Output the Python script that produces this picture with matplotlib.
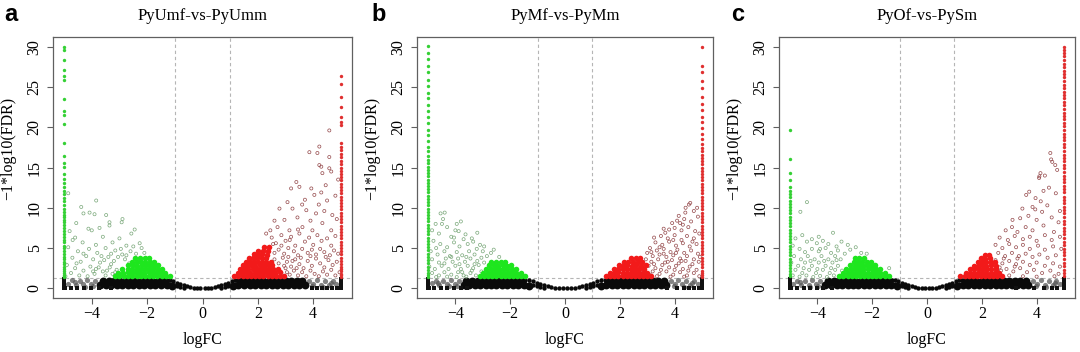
import numpy as np
import matplotlib
matplotlib.use("Agg")
import matplotlib.pyplot as plt

plt.rcParams['font.family'] = ['Liberation Serif', 'DejaVu Serif']
plt.rcParams['axes.unicode_minus'] = True

# ---------------- shared settings ----------------
titles = ["PyUmf-vs-PyUmm", "PyMf-vs-PyMm", "PyOf-vs-PySm"]
panel_letters = ["a", "b", "c"]
x_ticks = [-4, -2, 0, 2, 4]
y_ticks = [0, 5, 10, 15, 20, 25, 30]
fc_cut = 1.0          # |logFC| threshold
fdr_line = 1.3        # -log10(0.05)
fc_clip = 5.0         # logFC values clipped at +/-5

# ---------------- panel a ----------------
a_black_core = [
    (-3.58,0.95),(-3.39,0.92),(-3.2,0.96),(-3.01,0.93),(-2.8,0.95),(-2.61,0.92),(-2.4,0.96),(-2.19,0.94),(-2.0,0.92),(-1.81,0.95),(-1.6,0.93),(-1.41,0.92),
    (1.41,0.92),(1.6,0.94),(1.79,0.92),(2.0,0.95),(2.2,0.93),(2.41,0.96),(2.6,0.92),(2.8,0.95),(3.0,0.93),(3.21,0.96),(3.4,0.92),(3.6,0.94),
    (-3.7,0.4),(-3.5,0.37),(-3.3,0.41),(-3.1,0.38),(-2.9,0.4),(-2.7,0.36),(-2.5,0.39),(-2.3,0.41),(-2.1,0.37),(-1.9,0.4),(-1.7,0.38),(-1.5,0.41),(-1.3,0.37),(-1.1,0.32),
    (1.1,0.32),(1.3,0.38),(1.5,0.4),(1.7,0.37),(1.9,0.41),(2.1,0.38),(2.3,0.4),(2.5,0.37),(2.7,0.41),(2.9,0.39),(3.1,0.38),(3.3,0.4),(3.5,0.37),(3.7,0.39)]
a_black_mid = [
    (-1.3,1.0),(-1.3,0.6),(-1.18,1.0),(-1.18,0.55),(-1.05,0.9),(-1.05,0.4),(-0.92,0.72),(-0.92,0.3),(-0.8,0.55),(-0.8,0.15),(-0.68,0.4),(-0.68,0.1),
    (-0.56,0.26),(-0.44,0.16),(-0.32,0.08),(-0.2,0.04),(-0.08,0.02),(0.08,0.02),(0.2,0.04),(0.32,0.08),(0.44,0.16),(0.56,0.26),
    (0.68,0.1),(0.68,0.4),(0.8,0.15),(0.8,0.55),(0.92,0.3),(0.92,0.72),(1.05,0.4),(1.05,0.9),(1.18,0.55),(1.18,1.0),(1.3,0.6),(1.3,1.0)]
a_black_outer = [
    (-3.88,0.95),(-4.02,0.6),(-4.16,1.02),(-4.3,0.5),(-4.44,0.88),(-4.58,0.42),(-4.72,0.98),(-4.86,0.6),(-3.95,0.3),(-4.25,0.22),(-4.62,0.75),
    (3.86,0.92),(4.0,0.55),(4.14,1.0),(4.28,0.45),(4.42,0.85),(4.56,0.4),(4.7,0.95),(4.84,0.6),(3.96,0.28),(4.35,0.2),(4.65,0.7)]
a_black_row_x = [-4.98,-4.75,-4.52,-4.27,-4.02,-3.74,-3.3, 3.97,4.15,4.33,4.5,4.68,4.85]
a_black_col_y = [0.02,0.2,0.4,0.6,0.8,1.0,1.2]
a_green_core = [
    (-1.18,1.52),(-1.33,1.49),(-1.48,1.53),(-1.63,1.5),(-1.78,1.54),(-1.93,1.48),(-2.08,1.52),(-2.23,1.5),(-2.38,1.54),(-2.53,1.49),(-2.68,1.52),(-2.84,1.5),(-3.0,1.53),(-3.16,1.49),
    (-1.35,1.96),(-1.5,1.93),(-1.65,1.98),(-1.8,1.94),(-1.95,1.97),(-2.1,1.92),(-2.25,1.96),(-2.4,1.99),(-2.55,1.93),(-2.7,1.97),(-2.88,1.94),(-3.06,1.96),
    (-1.47,2.41),(-1.62,2.38),(-1.77,2.43),(-1.92,2.39),(-2.07,2.42),(-2.22,2.37),(-2.37,2.41),(-2.53,2.44),(-2.7,2.38),(-2.9,2.42),
    (-1.6,2.86),(-1.75,2.83),(-1.9,2.88),(-2.05,2.84),(-2.2,2.87),(-2.35,2.82),(-2.51,2.86),(-2.68,2.84),
    (-1.76,3.3),(-1.91,3.27),(-2.06,3.32),(-2.21,3.28),(-2.38,3.31),(-2.56,3.27),
    (-1.93,3.74),(-2.09,3.71),(-2.26,3.76),(-2.45,3.72)]
a_green_sparse = [
    (-4.85,11.8),(-4.38,10.1),(-4.3,9.3),(-4.08,9.4),(-3.84,10.9),(-3.9,9.2),(-3.48,9.1),(-3.36,8.2),(-2.92,8.2),(-2.89,8.6),(-4.56,8.1),(-4.0,7.2),
    (-4.12,7.4),(-3.72,7.5),(-3.36,7.8),(-4.6,6.3),(-2.57,6.8),(-4.69,6.0),(-4.33,5.7),(-3.25,5.7),(-2.27,5.6),(-3.6,6.4),(-3.0,6.2),(-2.75,5.3),
    (-4.85,5.1),(-4.5,4.6),(-4.1,4.9),(-3.8,4.4),(-3.5,5.0),(-3.15,4.7),(-2.9,4.2),(-2.6,4.6),(-2.4,4.3),(-2.1,4.4),(-4.7,3.8),(-4.4,3.3),
    (-4.2,4.0),(-3.95,3.6),(-3.7,3.2),(-3.4,3.9),(-3.2,3.4),(-3.05,3.9),(-2.8,3.6),(-2.65,3.1),(-4.9,2.9),(-4.6,2.5),(-4.3,2.2),(-4.05,2.7),
    (-3.85,2.4),(-3.6,2.1),(-3.35,2.6),(-3.1,2.3),(-4.75,1.9),(-4.45,1.6),(-4.15,1.5),(-3.9,1.8),(-3.5,1.6),(-3.25,1.8),(-2.95,1.7),(-4.95,1.5),
    (-4.8,7.1),(-2.45,7.3),(-2.2,5.0),(-3.3,3.0),(-3.45,2.2),(-3.55,3.5),(-3.75,2.6),(-3.3,4.3),(-2.95,4.9),(-2.75,4.1),(-3.65,4.0),
    (-4.3,4.3),(-4.55,3.1),(-3.95,2.1),(-3.15,2.0),(-2.5,5.2),(-3.85,5.4)]
a_left_col_y = [30.0,29.6,28.4,27.1,26.3,25.8,23.5,22.0,21.5,20.4,18.0,16.4,15.5,15.1,14.2,13.6,13.1,12.6,12.1,11.7,11.2,10.8,10.3,9.9,9.5,
                9.1,8.8,8.5,8.2,7.9,7.5,7.1,6.8,6.4,6.0,5.7,5.3,5.0,4.6,4.3,3.9,3.6,3.3,3.0,2.7,2.4,2.1,1.9,1.7,1.5,1.4]
a_red_core = [
    (1.15,1.51),(1.3,1.48),(1.45,1.53),(1.6,1.5),(1.75,1.52),(1.9,1.49),(2.05,1.54),(2.2,1.5),(2.35,1.52),(2.5,1.48),(2.65,1.53),(2.8,1.5),(2.96,1.52),
    (1.28,1.95),(1.43,1.92),(1.58,1.97),(1.73,1.94),(1.88,1.96),(2.03,1.93),(2.18,1.98),(2.33,1.94),(2.48,1.96),(2.63,1.92),(2.8,1.97),
    (1.36,2.4),(1.51,2.37),(1.66,2.42),(1.81,2.38),(1.96,2.41),(2.11,2.37),(2.26,2.43),(2.41,2.39),(2.56,2.41),(2.73,2.38),
    (1.46,2.85),(1.61,2.82),(1.76,2.87),(1.91,2.83),(2.06,2.86),(2.21,2.82),(2.36,2.87),(2.52,2.84),
    (1.56,3.3),(1.71,3.27),(1.86,3.32),(2.01,3.28),(2.16,3.31),(2.31,3.27),(2.47,3.31),
    (1.68,3.75),(1.83,3.72),(1.98,3.77),(2.14,3.73),(2.31,3.76),
    (1.85,4.2),(2.0,4.17),(2.16,4.22),(2.33,4.18),
    (2.01,4.64),(2.17,4.61),(2.36,4.66),(2.21,5.1),(2.39,5.07)]
a_red_sparse = [
    (4.58,19.6),(4.22,17.6),(3.86,16.9),(4.15,16.8),(4.58,16.3),(4.22,15.3),(4.29,15.1),(4.58,14.9),(4.33,14.3),(4.65,14.5),(3.39,13.2),(3.5,12.6),
    (3.2,12.4),(3.93,12.4),(4.04,11.6),(4.29,11.9),(4.5,10.9),(2.78,9.9),(3.07,10.7),(3.25,9.9),(3.43,8.8),(3.75,9.7),(4.1,9.3),(4.69,9.1),
    (2.71,7.6),(2.96,8.5),(3.14,7.2),(3.61,7.6),(3.97,7.2),(4.33,8.1),(4.65,7.2),(4.85,8.6),(4.8,11.5),(4.45,12.8),(3.7,11.0),(4.9,13.5),
    (2.5,6.3),(2.65,5.6),(2.85,6.6),(3.0,5.9),(3.2,6.4),(3.35,5.3),(3.5,6.8),(3.7,5.8),(3.85,6.3),(4.0,5.4),(4.15,6.6),(4.3,5.9),
    (4.5,6.2),(4.65,5.3),(4.8,6.5),(2.75,4.8),(2.95,4.3),(3.1,5.0),(3.3,4.6),(3.45,4.1),(3.6,4.9),(3.8,4.4),(3.95,4.8),(4.1,4.2),
    (4.25,4.9),(4.4,4.5),(4.6,4.1),(4.75,4.7),(4.9,4.3),(2.6,3.6),(2.75,3.1),(2.9,3.8),(3.05,3.3),(3.2,2.7),(3.35,3.6),(3.5,3.0),
    (3.65,2.5),(3.8,3.4),(3.95,2.8),(4.1,3.7),(4.25,3.1),(4.4,2.6),(4.55,3.5),(4.7,2.9),(4.85,3.3),(2.7,2.3),(2.85,1.9),(3.0,2.5),
    (3.15,1.7),(3.3,2.2),(3.45,1.6),(3.6,2.0),(3.75,1.5),(3.9,2.2),(4.05,1.8),(4.2,1.5),(4.35,2.1),(4.5,1.7),(4.65,2.3),(4.8,1.6),
    (4.95,2.0),(3.1,3.9),(3.9,4.0),(4.45,3.9),(2.3,6.8),(2.45,7.2),(2.6,8.4),(2.6,4.4),(2.85,5.3),(3.05,2.0),(3.25,3.4),(3.4,2.5),
    (2.95,2.8),(3.55,3.8),(2.55,5.5),(3.15,6.0),(3.45,7.3),(3.9,8.4),(4.2,10.4),(3.6,10.4),(4.4,9.6)]
a_right_col_y = [26.3,25.4,23.8,22.5,21.3,20.7,20.3,18.0,17.6,17.2,16.7,16.3,15.8,15.4,15.0,14.6,14.2,13.8,13.4,13.0,12.6,12.2,11.8,11.4,
                 11.0,10.6,10.2,9.8,9.4,9.0,8.6,8.2,7.8,7.4,7.0,6.6,6.2,5.8,5.4,5.0,4.6,4.2,3.8,3.4,3.0,2.7,2.4,2.1,1.8,1.6,1.4]

# ---------------- panel b ----------------
b_black_core = [
    (-3.6,0.94),(-3.4,0.92),(-3.19,0.95),(-3.0,0.93),(-2.81,0.96),(-2.6,0.92),(-2.4,0.94),(-2.2,0.96),(-2.0,0.93),(-1.8,0.95),(-1.6,0.92),
    (1.6,0.93),(1.8,0.95),(2.0,0.92),(2.21,0.96),(2.4,0.94),(2.6,0.92),(2.8,0.95),(3.0,0.93),(3.2,0.96),(3.4,0.92),(3.61,0.94),
    (-3.7,0.39),(-3.5,0.37),(-3.3,0.4),(-3.1,0.38),(-2.9,0.41),(-2.7,0.37),(-2.5,0.39),(-2.3,0.4),(-2.1,0.38),(-1.9,0.41),(-1.7,0.37),(-1.5,0.39),(-1.3,0.32),
    (1.3,0.32),(1.5,0.4),(1.7,0.38),(1.9,0.39),(2.1,0.37),(2.3,0.41),(2.5,0.38),(2.7,0.4),(2.9,0.37),(3.1,0.39),(3.3,0.41),(3.5,0.38),(3.7,0.4)]
b_black_mid = [
    (-1.45,1.0),(-1.45,0.6),(-1.32,1.0),(-1.32,0.55),(-1.18,0.9),(-1.18,0.4),(-1.03,0.72),(-1.03,0.3),(-0.9,0.55),(-0.9,0.15),(-0.76,0.4),(-0.76,0.1),
    (-0.63,0.26),(-0.5,0.16),(-0.36,0.08),(-0.22,0.04),(-0.09,0.02),(0.09,0.02),(0.22,0.04),(0.36,0.08),(0.5,0.16),(0.63,0.26),
    (0.76,0.1),(0.76,0.4),(0.9,0.15),(0.9,0.55),(1.03,0.3),(1.03,0.72),(1.18,0.4),(1.18,0.9),(1.32,0.55),(1.32,1.0),(1.45,0.6),(1.45,1.0)]
b_black_outer = [
    (-3.88,0.9),(-4.02,0.58),(-4.16,1.0),(-4.3,0.48),(-4.44,0.9),(-4.58,0.45),(-4.72,0.95),(-4.86,0.62),(-3.95,0.28),(-4.25,0.24),(-4.62,0.72),
    (3.86,0.95),(4.0,0.52),(4.14,0.98),(4.28,0.48),(4.42,0.88),(4.56,0.42),(4.7,0.92),(4.84,0.58),(3.96,0.3),(4.35,0.22),(4.65,0.72)]
b_black_row_x = [-4.98,-4.78,-4.53,-4.3,-4.05,-3.8,-3.58, 3.73,4.1,4.35,4.53,4.71,4.9]
b_black_col_y = [0.02,0.2,0.4,0.6,0.8,1.0,1.2]
b_green_core = [
    (-1.45,1.52),(-1.6,1.49),(-1.75,1.53),(-1.9,1.5),(-2.05,1.52),(-2.2,1.48),(-2.35,1.53),(-2.5,1.5),(-2.65,1.52),(-2.8,1.49),(-2.95,1.53),(-3.1,1.5),
    (-1.62,1.95),(-1.77,1.92),(-1.92,1.97),(-2.07,1.93),(-2.22,1.96),(-2.37,1.92),(-2.52,1.97),(-2.67,1.94),(-2.82,1.96),(-2.98,1.93),
    (-1.8,2.4),(-1.95,2.37),(-2.1,2.42),(-2.25,2.38),(-2.4,2.41),(-2.55,2.37),(-2.7,2.42),(-2.88,2.39),
    (-1.98,2.85),(-2.13,2.82),(-2.28,2.87),(-2.43,2.83),(-2.6,2.86),(-2.78,2.84),
    (-2.2,3.3),(-2.35,3.27),(-2.52,3.31),(-2.7,3.28)]
b_green_sparse = [
    (-4.54,9.3),(-4.39,9.4),(-4.72,8.0),(-4.49,8.0),(-3.95,8.0),(-3.88,7.1),(-4.0,7.2),(-3.63,6.7),(-3.7,6.1),(-4.3,7.6),(-4.6,6.8),(-4.85,7.2),
    (-4.15,6.4),(-3.4,6.2),(-3.22,4.9),(-3.1,5.4),(-4.8,5.9),(-4.55,5.5),(-4.3,5.1),(-4.05,5.7),(-3.85,5.2),(-3.55,5.5),(-4.9,4.6),(-4.65,4.2),
    (-4.4,4.6),(-4.2,4.0),(-3.95,4.5),(-3.75,4.1),(-3.5,4.6),(-3.3,4.2),(-3.0,4.6),(-2.85,4.0),(-2.7,4.4),(-4.85,3.6),(-4.6,3.2),(-4.35,3.7),
    (-4.1,3.3),(-3.9,3.7),(-3.65,3.3),(-3.45,3.7),(-3.2,3.4),(-3.05,3.8),(-4.95,2.7),(-4.75,2.4),(-4.5,2.8),(-4.25,2.4),(-4.0,2.8),(-3.8,2.4),
    (-3.55,2.8),(-3.35,2.5),(-3.15,2.9),(-4.85,1.9),(-4.6,1.6),(-4.4,2.0),(-4.15,1.7),(-3.9,2.0),(-3.7,1.6),(-3.45,1.9),(-3.25,1.6),(-3.05,2.1),
    (-4.7,1.4),(-4.3,1.45),(-3.95,1.4),(-3.6,1.45),(-3.2,6.9),(-2.95,5.2),(-2.6,4.8),(-4.45,8.6),(-3.8,8.3),(-2.4,3.9),(-3.35,5.8),(-4.7,5.0),
    (-4.05,6.3),(-3.3,3.0),(-3.6,3.9),(-3.85,3.0),(-4.15,3.9),(-4.4,3.1),(-3.4,2.2),(-3.75,2.0),(-2.95,3.2)]
b_left_col_y = [30.1,29.2,28.5,27.6,26.9,25.8,25.1,24.2,23.6,22.8,22.0,21.3,20.5,19.7,19.0,18.3,17.6,17.0,16.4,15.9,15.5,15.1,14.7,14.3,13.9,
                13.5,13.1,12.7,12.3,11.9,11.5,11.1,10.7,10.3,9.9,9.5,9.1,8.7,8.3,7.9,7.5,7.1,6.7,6.3,5.9,5.5,5.1,4.7,4.3,3.9,3.5,3.1,
                2.7,2.3,1.9,1.6,1.4]
b_red_core = [
    (1.5,1.51),(1.65,1.48),(1.8,1.53),(1.95,1.5),(2.1,1.52),(2.25,1.49),(2.4,1.53),(2.55,1.5),(2.7,1.52),(2.85,1.48),(3.0,1.53),(3.15,1.5),
    (1.65,1.95),(1.8,1.92),(1.95,1.97),(2.1,1.93),(2.25,1.96),(2.4,1.92),(2.55,1.97),(2.7,1.94),(2.85,1.96),(3.0,1.93),
    (1.8,2.4),(1.95,2.37),(2.1,2.42),(2.25,2.38),(2.4,2.41),(2.55,2.37),(2.7,2.42),(2.88,2.39),
    (1.98,2.85),(2.13,2.82),(2.28,2.87),(2.43,2.83),(2.6,2.86),(2.78,2.82),(2.95,2.86),
    (2.15,3.3),(2.3,3.27),(2.47,3.31),(2.65,3.28),(2.82,3.31),
    (2.4,3.75),(2.58,3.72),(2.75,3.76)]
b_red_sparse = [
    (4.57,10.6),(4.7,9.6),(4.39,9.4),(4.82,10.0),(4.52,10.4),(4.2,8.1),(3.91,8.1),(4.09,8.4),(3.66,6.9),(4.35,8.6),(4.6,8.3),(4.85,8.9),
    (4.0,7.5),(4.25,7.2),(4.5,7.6),(4.75,7.1),(3.8,7.3),(3.5,6.5),(3.75,6.2),(4.0,6.6),(4.25,6.0),(4.45,6.5),(4.7,6.2),(4.9,6.8),
    (3.3,5.7),(3.55,5.4),(3.8,5.8),(4.05,5.3),(4.3,5.6),(4.55,5.2),(4.8,5.5),(3.1,5.0),(3.35,4.7),(3.6,4.9),(3.85,4.5),(4.1,4.8),
    (4.35,4.4),(4.6,4.7),(4.85,4.3),(3.0,4.4),(3.2,4.0),(3.45,4.2),(3.7,3.9),(3.95,4.1),(4.2,3.7),(4.45,4.0),(4.7,3.6),(4.92,3.9),
    (2.95,3.6),(3.15,3.3),(3.4,3.6),(3.65,3.2),(3.9,3.5),(4.15,3.1),(4.4,3.4),(4.65,3.0),(4.88,3.3),(3.05,2.8),(3.3,2.5),(3.55,2.9),
    (3.8,2.6),(4.05,2.8),(4.3,2.4),(4.55,2.7),(4.8,2.3),(3.2,2.1),(3.45,1.8),(3.7,2.1),(3.95,1.7),(4.2,2.0),(4.45,1.6),(4.7,1.9),
    (4.9,1.5),(3.35,1.5),(3.85,1.45),(4.35,1.45),(3.1,1.7),(2.9,2.3),(2.75,1.9),(3.6,7.4),(3.25,6.3),(4.15,9.0),(4.4,10.0),(3.45,5.1),
    (4.65,5.8),(3.95,6.0),(4.3,7.9),(3.25,3.0),(3.5,2.3),(3.75,3.3),(4.0,2.3),(4.25,3.4),(4.5,2.2),(3.15,4.5),(3.6,4.3),(4.05,4.4)]
b_right_col_y = [30.0,27.6,26.8,25.7,24.9,23.7,22.9,22.1,21.3,20.6,19.9,19.2,18.5,17.9,17.4,17.0,16.6,16.2,15.8,15.4,15.0,14.6,14.2,13.8,
                 13.4,13.0,12.6,12.2,11.8,11.4,11.0,10.6,10.2,9.8,9.4,9.0,8.6,8.2,7.8,7.4,7.0,6.6,6.2,5.8,5.4,5.0,4.6,4.2,3.8,3.4,
                 3.0,2.6,2.2,1.9,1.6,1.4]

# ---------------- panel c ----------------
c_black_core = [
    (-3.62,0.94),(-3.41,0.92),(-3.2,0.95),(-3.0,0.93),(-2.8,0.96),(-2.61,0.92),(-2.41,0.94),(-2.2,0.95),(-2.0,0.92),(-1.8,0.95),(-1.6,0.93),(-1.42,0.92),
    (1.42,0.92),(1.6,0.94),(1.8,0.92),(2.0,0.95),(2.2,0.93),(2.4,0.95),(2.6,0.92),(2.8,0.94),(3.0,0.96),(3.2,0.93),(3.4,0.95),(3.6,0.92),
    (-3.72,0.39),(-3.5,0.38),(-3.3,0.4),(-3.1,0.37),(-2.9,0.39),(-2.7,0.41),(-2.5,0.38),(-2.3,0.4),(-2.1,0.37),(-1.9,0.39),(-1.7,0.41),(-1.5,0.38),(-1.3,0.39),(-1.1,0.32),
    (1.1,0.32),(1.3,0.39),(1.5,0.4),(1.7,0.38),(1.9,0.39),(2.1,0.41),(2.3,0.37),(2.5,0.39),(2.7,0.4),(2.9,0.38),(3.1,0.39),(3.3,0.37),(3.5,0.4),(3.7,0.38)]
c_black_mid = [
    (-1.28,1.0),(-1.28,0.6),(-1.16,1.0),(-1.16,0.54),(-1.04,0.88),(-1.04,0.4),(-0.92,0.7),(-0.92,0.3),(-0.8,0.54),(-0.8,0.15),(-0.68,0.38),(-0.68,0.1),
    (-0.56,0.25),(-0.44,0.15),(-0.32,0.08),(-0.2,0.04),(-0.08,0.02),(0.08,0.02),(0.2,0.04),(0.32,0.08),(0.44,0.15),(0.56,0.25),
    (0.68,0.1),(0.68,0.38),(0.8,0.15),(0.8,0.54),(0.92,0.3),(0.92,0.7),(1.04,0.4),(1.04,0.88),(1.16,0.54),(1.16,1.0),(1.28,0.6),(1.28,1.0)]
c_black_outer = [
    (-3.9,0.92),(-4.04,0.56),(-4.18,1.0),(-4.32,0.46),(-4.46,0.9),(-4.6,0.42),(-4.74,0.96),(-4.88,0.6),(-3.96,0.3),(-4.26,0.22),(-4.64,0.74),
    (3.88,0.94),(4.02,0.54),(4.16,1.0),(4.3,0.46),(4.44,0.86),(4.58,0.4),(4.72,0.94),(4.86,0.6),(3.98,0.3),(4.36,0.22),(4.66,0.7)]
c_black_row_x = [-4.98,-4.74,-4.5,-4.26,-4.02,-3.78,-3.48, 3.24,3.9,4.27,4.57,4.75]
c_black_col_y = [0.02,0.2,0.4,0.6,0.8,1.0,1.2]
c_green_core = [
    (-1.4,1.52),(-1.55,1.49),(-1.7,1.53),(-1.85,1.5),(-2.0,1.52),(-2.15,1.48),(-2.3,1.53),(-2.45,1.5),(-2.6,1.52),(-2.75,1.49),(-2.9,1.53),(-3.05,1.5),(-3.2,1.52),
    (-1.55,1.95),(-1.7,1.92),(-1.85,1.97),(-2.0,1.93),(-2.15,1.96),(-2.3,1.92),(-2.45,1.97),(-2.6,1.94),(-2.75,1.96),(-2.9,1.93),(-3.06,1.95),
    (-1.72,2.4),(-1.87,2.37),(-2.02,2.42),(-2.17,2.38),(-2.32,2.41),(-2.47,2.37),(-2.62,2.42),(-2.78,2.39),(-2.95,2.41),
    (-1.88,2.85),(-2.03,2.82),(-2.18,2.87),(-2.33,2.83),(-2.48,2.86),(-2.63,2.82),(-2.8,2.86),
    (-2.05,3.3),(-2.2,3.27),(-2.36,3.32),(-2.52,3.28),(-2.68,3.31),
    (-2.3,3.74),(-2.48,3.71),(-2.64,3.75)]
c_green_sparse = [
    (-4.38,10.7),(-4.62,9.5),(-3.43,6.9),(-4.38,5.8),(-4.02,5.6),(-4.8,6.2),(-3.12,5.8),(-2.89,5.4),(-3.8,5.9),(-3.6,5.5),(-4.2,6.1),(-3.3,5.2),
    (-4.9,5.3),(-4.65,4.9),(-4.45,4.5),(-4.2,4.9),(-3.95,4.6),(-3.7,5.0),(-3.5,4.4),(-3.25,4.7),(-3.0,4.3),(-2.8,4.8),(-4.85,4.0),(-4.6,3.6),
    (-4.35,4.0),(-4.1,3.6),(-3.85,4.0),(-3.6,3.6),(-3.35,4.0),(-3.15,3.6),(-4.95,3.2),(-4.7,2.8),(-4.45,3.2),(-4.2,2.8),(-3.95,3.2),(-3.7,2.8),
    (-3.45,3.2),(-3.25,2.8),(-4.8,2.3),(-4.55,1.9),(-4.3,2.3),(-4.05,1.9),(-3.8,2.3),(-3.55,1.9),(-3.35,2.3),(-4.9,1.6),(-4.65,1.45),(-4.4,1.6),
    (-4.15,1.4),(-3.9,1.55),(-3.65,1.4),(-3.4,1.6),(-2.6,5.1),(-2.4,4.4),(-1.38,2.5),(-4.55,6.6),(-3.95,6.4),(-2.2,4.3),(-3.5,2.5),
    (-3.75,3.4),(-4.0,2.4),(-4.25,3.4),(-3.3,3.5),(-3.1,2.2),(-4.5,2.5),(-3.9,4.9)]
c_left_col_y = [19.6,16.1,14.3,13.4,12.6,12.1,11.7,11.3,10.9,10.5,10.1,9.7,9.3,8.9,8.5,8.1,7.7,7.3,6.9,6.5,6.1,5.7,5.3,4.9,4.5,4.1,
                3.7,3.3,2.9,2.5,2.1,1.8,1.5]
c_red_core = [
    (1.22,1.5),(1.37,1.47),(1.52,1.52),(1.67,1.49),(1.82,1.53),(1.97,1.5),(2.12,1.52),(2.27,1.48),(2.42,1.52),(2.57,1.5),(2.72,1.53),
    (1.42,1.93),(1.57,1.9),(1.72,1.95),(1.87,1.92),(2.02,1.96),(2.17,1.92),(2.32,1.95),(2.47,1.93),(2.62,1.96),
    (1.58,2.38),(1.73,2.35),(1.88,2.4),(2.03,2.36),(2.18,2.41),(2.33,2.37),(2.5,2.4),
    (1.72,2.83),(1.87,2.8),(2.02,2.85),(2.17,2.81),(2.33,2.84),(2.5,2.82),
    (1.86,3.28),(2.01,3.25),(2.16,3.3),(2.32,3.26),(2.48,3.29),
    (1.98,3.72),(2.13,3.69),(2.3,3.74),(2.12,4.16),(2.28,4.13)]
c_red_sparse = [
    (4.5,16.8),(4.57,15.7),(4.68,15.3),(4.14,14.3),(4.09,13.7),(4.3,14.0),(3.73,12.0),(3.62,11.6),(3.96,11.2),(4.15,10.8),(3.85,10.1),(3.48,9.9),
    (4.39,10.3),(4.2,9.5),(3.12,8.5),(3.4,8.7),(2.87,7.2),(3.1,7.6),(4.63,7.0),(4.53,16.0),(4.75,14.7),(4.1,13.9),(4.45,12.5),(4.7,11.8),
    (4.85,9.6),(3.7,9.0),(4.0,8.5),(4.55,8.8),(3.3,7.0),(3.6,7.6),(3.85,7.2),(4.25,7.8),(4.8,8.2),(2.65,6.3),(2.95,6.0),(3.2,6.5),
    (3.5,6.1),(3.75,6.4),(4.0,5.9),(4.3,6.6),(4.55,6.0),(4.85,6.4),(2.5,5.4),(2.75,5.0),(3.0,5.5),(3.25,5.1),(3.5,5.4),(3.75,4.9),
    (4.05,5.3),(4.3,4.8),(4.6,5.2),(4.9,4.9),(2.6,4.4),(2.85,4.0),(3.1,4.4),(3.35,4.0),(3.6,4.3),(3.85,3.9),(4.1,4.2),(4.4,3.8),
    (4.7,4.1),(2.5,3.5),(2.75,3.1),(3.0,3.4),(3.25,3.0),(3.5,3.3),(3.75,2.9),(4.0,3.2),(4.3,2.8),(4.6,3.1),(4.85,2.7),(2.9,2.4),
    (3.15,2.1),(3.4,2.5),(3.65,2.0),(3.9,2.3),(4.2,1.9),(4.5,2.2),(4.8,1.8),(3.0,1.6),(3.5,1.5),(4.0,1.45),(4.65,1.5),(4.25,12.1),
    (3.95,9.8),(2.65,2.6),(2.8,3.7),(2.55,2.0),(3.2,2.7),(2.7,2.2),(3.3,3.7)]
c_right_col_y = [30.0,29.6,29.2,28.8,28.3,27.9,27.5,27.0,26.6,26.2,25.7,25.3,24.9,24.4,24.0,23.6,23.1,22.7,22.3,21.8,21.4,21.0,20.5,20.1,
                 19.7,19.2,18.8,18.4,17.9,17.5,17.1,16.6,16.2,15.8,15.3,14.9,14.5,14.0,13.6,13.2,12.7,12.3,11.9,11.4,11.0,10.6,10.1,
                 9.7,9.3,8.8,8.4,8.0,7.5,7.1,6.7,6.2,5.8,5.4,4.9,4.5,4.1,3.6,3.2,2.8,2.3,1.9,1.5]

panels = [
    dict(black_core=a_black_core, black_mid=a_black_mid, black_outer=a_black_outer, black_row_x=a_black_row_x,
         black_col_y=a_black_col_y, green_core=a_green_core, green_sparse=a_green_sparse, left_col_y=a_left_col_y,
         red_core=a_red_core, red_sparse=a_red_sparse, right_col_y=a_right_col_y),
    dict(black_core=b_black_core, black_mid=b_black_mid, black_outer=b_black_outer, black_row_x=b_black_row_x,
         black_col_y=b_black_col_y, green_core=b_green_core, green_sparse=b_green_sparse, left_col_y=b_left_col_y,
         red_core=b_red_core, red_sparse=b_red_sparse, right_col_y=b_right_col_y),
    dict(black_core=c_black_core, black_mid=c_black_mid, black_outer=c_black_outer, black_row_x=c_black_row_x,
         black_col_y=c_black_col_y, green_core=c_green_core, green_sparse=c_green_sparse, left_col_y=c_left_col_y,
         red_core=c_red_core, red_sparse=c_red_sparse, right_col_y=c_right_col_y),
]

# ---------------- styles / layout ----------------
GREEN = '#1ee61e'
RED = '#f21a1a'
GREEN_DIM = '#7aa87a'
RED_DIM = '#94484a'
SPINE = '#606060'
W, H = 1080, 352
axes_px = [(53, 352), (417, 713), (779, 1075)]
top_px, bot_px = 37, 298
letter_x_px = [4, 371, 731]
FS = 11.5

fig = plt.figure(figsize=(W / 100, H / 100), dpi=100)


def xy(arr):
    a = np.asarray(arr, dtype=float)
    return a[:, 0], a[:, 1]


for i, (p, (l, r)) in enumerate(zip(panels, axes_px)):
    ax = fig.add_axes([l / W, 1 - bot_px / H, (r - l) / W, (bot_px - top_px) / H])
    ax.set_xlim(-5.4, 5.4)
    ax.set_ylim(-1.2, 31.2)

    line_kw = dict(color='#b5b5b5', lw=0.8, ls=(0, (3, 2.5)), zorder=1)
    ax.axvline(-fc_cut, **line_kw)
    ax.axvline(fc_cut, **line_kw)
    ax.axhline(fdr_line, **line_kw)

    # not significant (black)
    x, y = xy(p['black_outer'])
    ax.scatter(x, y, s=14, c='#5a5a5a', alpha=0.75, linewidths=0, zorder=2)
    x, y = xy(p['black_core'])
    ax.scatter(x, y, s=32, c='#0a0a0a', linewidths=0, zorder=2)
    x, y = xy(p['black_mid'])
    ax.scatter(x, y, s=10, c='#0a0a0a', linewidths=0, zorder=2)
    rx = np.asarray(p['black_row_x'])
    ax.scatter(rx, np.zeros_like(rx) + 0.02, s=5, marker='s', c='#111111', linewidths=0, zorder=2)
    cy = np.asarray(p['black_col_y'])
    ax.scatter(np.full_like(cy, -fc_clip), cy, s=8, marker='s', c='#111111', linewidths=0, zorder=2)
    ax.scatter(np.full_like(cy, fc_clip), cy, s=8, marker='s', c='#111111', linewidths=0, zorder=2)

    # down-regulated (green)
    x, y = xy(p['green_sparse'])
    ax.scatter(x, y, s=5, facecolors='none', edgecolors=GREEN_DIM, linewidths=0.5, zorder=3)
    x, y = xy(p['green_core'])
    ax.scatter(x, y, s=16, c=GREEN, linewidths=0, zorder=3)
    ly = np.asarray(p['left_col_y'])
    ax.scatter(np.full_like(ly, -fc_clip), ly, s=6, c='#35d035', linewidths=0, zorder=3)

    # up-regulated (red)
    x, y = xy(p['red_sparse'])
    ax.scatter(x, y, s=5, facecolors='none', edgecolors=RED_DIM, linewidths=0.5, zorder=3)
    x, y = xy(p['red_core'])
    ax.scatter(x, y, s=16, c=RED, linewidths=0, zorder=3)
    ry = np.asarray(p['right_col_y'])
    ax.scatter(np.full_like(ry, fc_clip), ry, s=6, c='#e03030', linewidths=0, zorder=3)

    ax.set_xticks(x_ticks)
    ax.set_yticks(y_ticks)
    ax.tick_params(direction='out', length=4, width=0.8, color=SPINE, labelsize=FS)
    ax.tick_params(axis='x', pad=2)
    ax.tick_params(axis='y', pad=3.5)
    plt.setp(ax.get_yticklabels(), rotation=90, va='center')
    for sp in ax.spines.values():
        sp.set_color(SPINE)
        sp.set_linewidth(0.9)

    cx = (l + r) / 2 / W
    fig.text(cx, 1 - 16 / H, titles[i], ha='center', va='center', fontsize=12)
    fig.text(cx, 1 - 340 / H, 'logFC', ha='center', va='center', fontsize=FS)
    fig.text((l - 45) / W, 1 - 148 / H, '\u22121*log10(FDR)', rotation=90,
             ha='center', va='center', fontsize=FS)
    fig.text(letter_x_px[i] / W, 1 - 21 / H, panel_letters[i], ha='left', va='baseline',
             fontsize=17, fontweight='bold', family=['Liberation Sans', 'DejaVu Sans'])

fig.savefig('out.png', dpi=100)
